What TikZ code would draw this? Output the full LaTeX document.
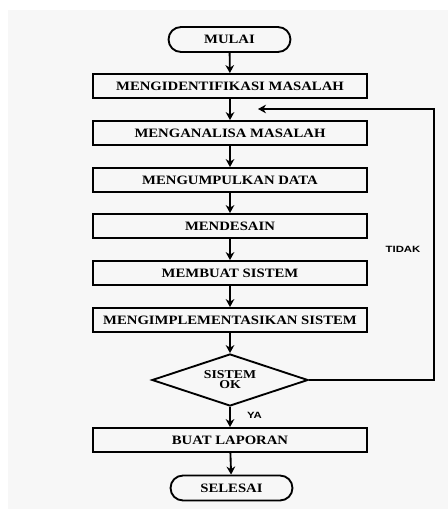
\documentclass[tikz,border=0pt]{standalone}
\usepackage{fontspec}
\usetikzlibrary{shapes.geometric,arrows.meta}
\newfontfamily\boxfont[FakeStretch=1.15]{Liberation Serif}
\newfontfamily\tagfont[FakeStretch=1.25]{Liberation Sans}
\tikzset{
  stepbox/.style={draw, line width=1.4pt, minimum width=205.5pt, minimum height=18pt, inner sep=0pt,
    font=\boxfont\bfseries\fontsize{9.6}{11}\selectfont},
  termbox/.style={draw, line width=1.4pt, rounded corners=9.4pt, minimum width=91.5pt, minimum height=18.75pt, inner sep=0pt,
    font=\boxfont\bfseries\fontsize{9.6}{11}\selectfont},
  decide/.style={draw, diamond, shape aspect=3, line width=1.4pt, minimum width=117pt, minimum height=39pt, inner sep=0pt, align=center,
    font=\boxfont\bfseries\fontsize{9}{7.5}\selectfont},
  tag/.style={inner sep=0pt, font=\tagfont\bfseries\fontsize{6.8}{8}\selectfont},
  flow/.style={line width=1.4pt, -{Stealth[length=6pt,width=6.5pt]}}
}
\begin{document}
\begin{tikzpicture}[x=0.75pt,y=-0.75pt]
  % background
  \fill[white] (0,0) rectangle (448,509);
  \fill[black!3] (8,10) rectangle (448,509);
  % start
  \node[termbox] (mulai) at (229.5,39.5) {MULAI};
  % steps
  \node[stepbox] (identifikasi) at (230,86) {MENGIDENTIFIKASI MASALAH};
  \node[stepbox] (analisa) at (230,133) {MENGANALISA MASALAH};
  \node[stepbox] (data) at (230,180) {MENGUMPULKAN DATA};
  \node[stepbox] (desain) at (230,226) {MENDESAIN};
  \node[stepbox] (buat) at (230,273) {MEMBUAT SISTEM};
  \node[stepbox] (implementasi) at (230,320) {MENGIMPLEMENTASIKAN SISTEM};
  % decision
  \node[decide] (ok) at (230,380) {SISTEM\\OK};
  \node[stepbox] (laporan) at (230,440) {BUAT LAPORAN};
  % end
  \node[termbox] (selesai) at (231.5,488) {SELESAI};
  % labels
  \node[tag] (ya) at (254.5,415) {YA};
  \node[tag] (tidak) at (403,249) {TIDAK};
  % arrows
  \draw[flow] (mulai) -- (identifikasi);
  \draw[flow] (identifikasi) -- (analisa);
  \draw[flow] (analisa) -- (data);
  \draw[flow] (data) -- (desain);
  \draw[flow] (desain) -- (buat);
  \draw[flow] (buat) -- (implementasi);
  \draw[flow] (implementasi) -- (ok);
  \draw[flow] (ok) -- (laporan);
  \draw[flow] (laporan) -- (selesai);
  % back loop
  \coordinate (pojok) at (434,109);
  \coordinate (balik) at (258,109);
  \draw[flow] (ok.east) -| (pojok) -- (balik);
\end{tikzpicture}
\end{document}
